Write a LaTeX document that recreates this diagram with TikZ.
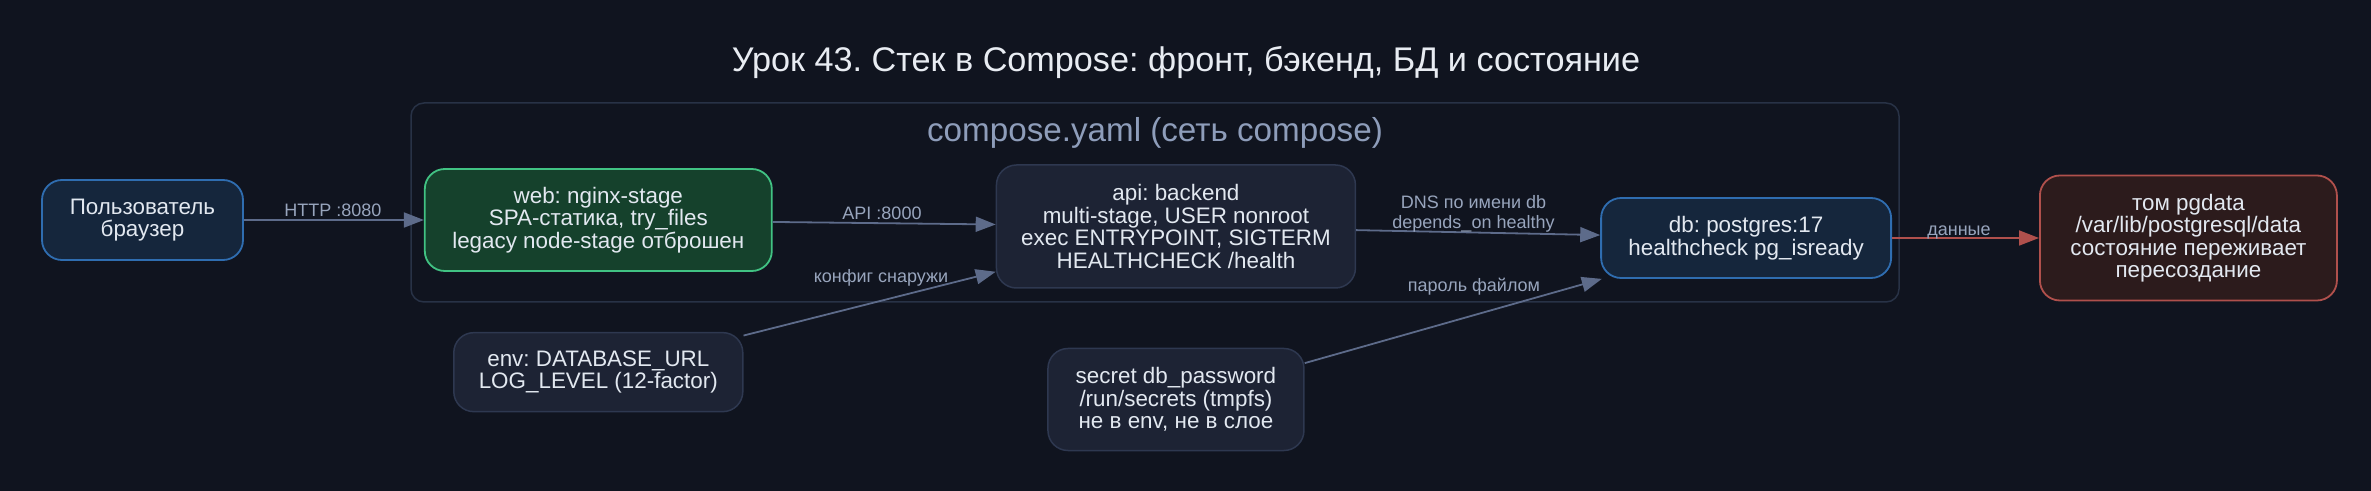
\documentclass[tikz,border=0pt]{standalone}
\usepackage{fontspec}
\setmainfont{Liberation Sans}
\usetikzlibrary{positioning,arrows.meta}
\frenchspacing

\definecolor{bgdark}{HTML}{10141F}
\definecolor{titlecol}{HTML}{E8ECF2}
\definecolor{nodetext}{HTML}{E2E8F0}
\definecolor{bluefill}{HTML}{15263C}
\definecolor{blueline}{HTML}{2F6DB0}
\definecolor{greenfill}{HTML}{15412C}
\definecolor{greenline}{HTML}{41C283}
\definecolor{slatefill}{HTML}{1D2334}
\definecolor{slateline}{HTML}{2E3850}
\definecolor{redfill}{HTML}{2C1B1C}
\definecolor{redline}{HTML}{B0504C}
\definecolor{edgecol}{HTML}{5D6B8A}
\definecolor{lblcol}{HTML}{98A5BD}
\definecolor{netline}{HTML}{283246}
\definecolor{netlblcol}{HTML}{8E9DBA}

\begin{document}
\begin{tikzpicture}[
  x=0.5pt, y=-0.5pt,
  font=\fontsize{11.2}{11.25}\selectfont,
  box/.style={draw, rounded corners=10pt, align=center, inner sep=0pt, text=nodetext, line width=0.9pt},
  client/.style={box, fill=bluefill, draw=blueline},
  front/.style={box, fill=greenfill, draw=greenline},
  svc/.style={box, fill=slatefill, draw=slateline, line width=0.75pt},
  store/.style={box, fill=bluefill, draw=blueline},
  vol/.style={box, fill=redfill, draw=redline},
  link/.style={-{Triangle[length=10pt,width=7.5pt]}, line width=0.9pt, draw=edgecol},
  lbl/.style={font=\fontsize{9}{9.7}\selectfont, text=lblcol, inner sep=0pt, align=center},
  big/.style={font=\fontsize{16.6}{18}\selectfont}]
  \fill[bgdark] (0,0) rectangle (2371,491);
  \useasboundingbox (0,0) rectangle (2371,491);
  \node[big, font=\fontsize{17.1}{18}\selectfont, anchor=base, text=titlecol] (title) at (1186,72) {Урок 43. Стек в Compose: фронт, бэкенд, БД и состояние};
  % compose network
  \node[draw=netline, rounded corners=6.5pt, line width=0.75pt, minimum width=744pt, minimum height=99.5pt, inner sep=0pt] (net) at (1155,202.5) {};
  \node[big, anchor=base, text=netlblcol] (netlbl) at (1155,142) {compose.yaml (сеть compose)};
  % services
  \node[client, minimum width=100.5pt, minimum height=40pt] (user) at (142.5,220) {Пользователь\\браузер};
  \node[front, minimum width=173.5pt, minimum height=51pt, right=90pt of user] (web) {web: nginx-stage\\SPA-статика, try\_files\\legacy node-stage отброшен};
  \node[svc, minimum width=179.5pt, minimum height=61.5pt, right=111.5pt of web, yshift=-3.25pt] (api) {api: backend\\multi-stage, USER nonroot\\exec ENTRYPOINT, SIGTERM\\HEALTHCHECK /health};
  \node[store, minimum width=145pt, minimum height=40pt, right=122pt of api, yshift=-5.75pt] (db) {db: postgres:17\\healthcheck pg\_isready};
  \node[vol, minimum width=148.5pt, minimum height=62.5pt, right=73.5pt of db] (pgdata) {том pgdata\\/var/lib/postgresql/data\\состояние переживает\\пересоздание};
  \node[svc, minimum width=144.5pt, minimum height=39.5pt, below=30pt of web] (env) {env: DATABASE\_URL\\LOG\_LEVEL (12-factor)};
  \node[svc, minimum width=128pt, minimum height=51pt, below=29.5pt of api] (secret) {secret db\_password\\/run/secrets (tmpfs)\\не в env, не в слое};
  % connectors
  \draw[link] (user) -- (web);
  \draw[link] (web) -- (api);
  \draw[link] (env) -- (api);
  \draw[link] (api) -- (db);
  \draw[link] (secret) -- (db);
  \draw[link, draw=redline] (db) -- (pgdata);
  % edge labels
  \node[lbl, anchor=base] (lhttp) at (333,217) {HTTP :8080};
  \node[lbl, anchor=base] (lapi) at (882,220) {API :8000};
  \node[lbl, anchor=base] (lcfg) at (881,283) {конфиг снаружи};
  \node[lbl] (ldns) at (1473.5,214) {DNS по имени db\\depends\_on healthy};
  \node[lbl, anchor=base] (lpass) at (1474,291.5) {пароль файлом};
  \node[lbl, anchor=base] (ldata) at (1959,235.5) {данные};
\end{tikzpicture}
\end{document}
